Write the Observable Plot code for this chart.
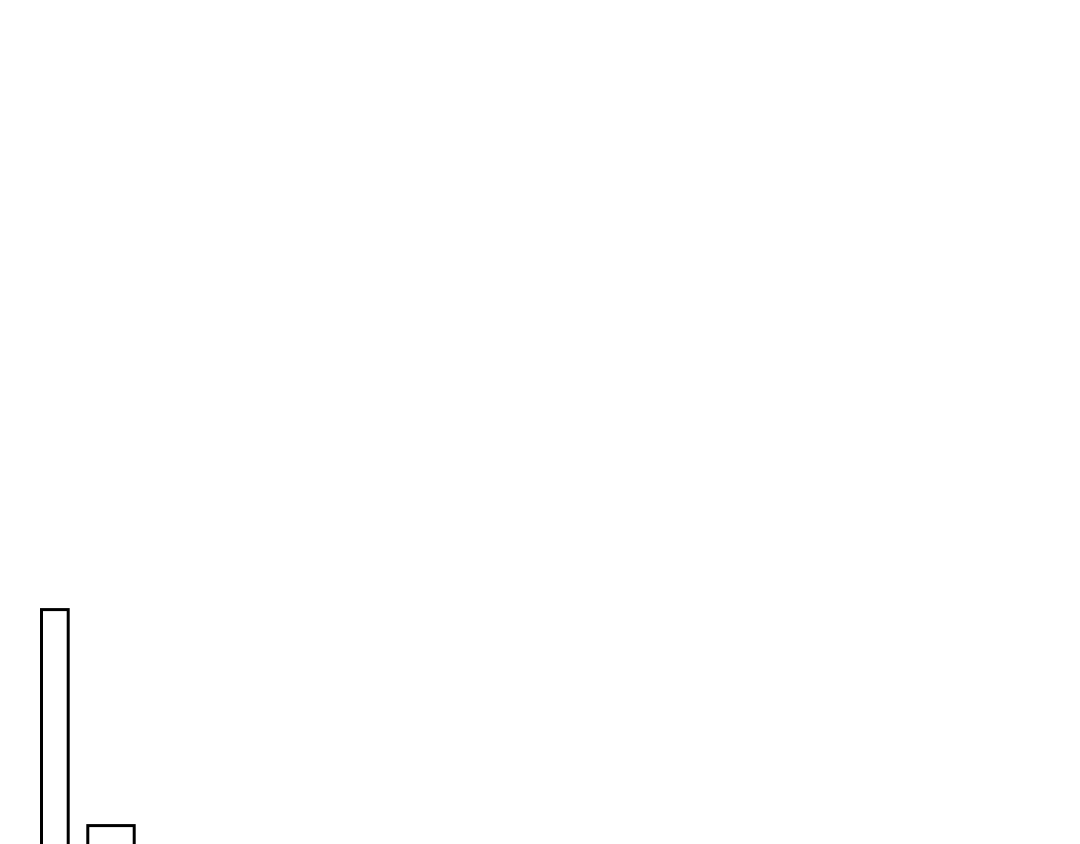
<!DOCTYPE html>
<html>
<head>
<meta charset="utf-8">
<script src="https://cdn.jsdelivr.net/npm/d3@7"></script>
<script src="https://cdn.jsdelivr.net/npm/@observablehq/plot@0.6"></script>
<style>
  html, body { margin: 0; padding: 0; background: #fff; overflow: hidden; }
  #chart svg { display: block; }
</style>
</head>
<body>
<div id="chart"></div>
<script>
// Bin edges (x units) and heights (y units)
const binStart = [4.15, 8.78];
const binEnd = [6.82, 13.42];
const counts = [49.2, 31.2];

const data = binStart.map((s, i) => ({x1: s, x2: binEnd[i], y: counts[i]}));

const chart = Plot.plot({
  width: 1080,
  height: 1200,
  marginTop: 0,
  marginRight: 0,
  marginBottom: 0,
  marginLeft: 0,
  x: {domain: [0, 108], axis: null},
  y: {domain: [0, 100], axis: null},
  marks: [
    Plot.rectY(data, {x1: "x1", x2: "x2", y1: 0, y2: "y", fill: "white", stroke: "black", strokeWidth: 3})
  ]
});
document.getElementById("chart").append(chart);
</script>
</body>
</html>
